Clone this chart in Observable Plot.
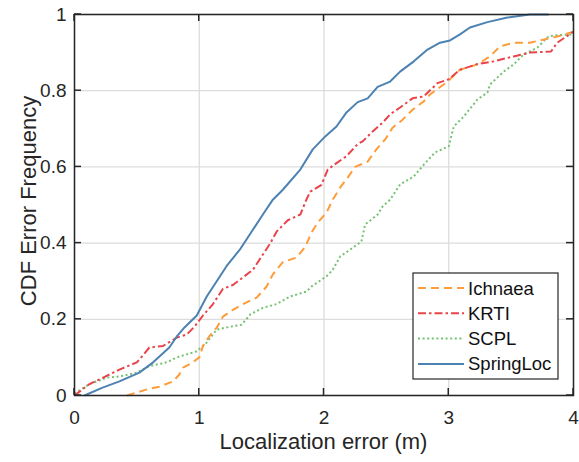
<!DOCTYPE html>
<html>
<head>
<meta charset="utf-8">
<script src="https://cdn.jsdelivr.net/npm/d3@7"></script>
<script src="https://cdn.jsdelivr.net/npm/@observablehq/plot@0.6"></script>
<style>
  html, body { margin: 0; padding: 0; background: #fff; }
  #chart { position: relative; width: 579px; height: 462px; }
</style>
</head>
<body>
<div id="chart"></div>
<script>
// ---- Data ----
const seriesNames = ["Ichnaea", "KRTI", "SCPL", "SpringLoc"];

const ichnaeaX = [0.42, 0.58, 0.68, 0.79, 0.84, 0.87, 0.95, 1.0, 1.03, 1.08, 1.14, 1.19, 1.27, 1.35, 1.46, 1.54, 1.59, 1.67, 1.78, 1.85, 1.90, 1.95, 2.02, 2.07, 2.13, 2.19, 2.25, 2.35, 2.42, 2.49, 2.55, 2.63, 2.71, 2.80, 2.85, 2.99, 3.09, 3.23, 3.33, 3.41, 3.52, 3.65, 3.76, 3.87, 4.0];
const ichnaeaY = [0, 0.016, 0.023, 0.037, 0.055, 0.073, 0.087, 0.10, 0.13, 0.155, 0.178, 0.207, 0.225, 0.24, 0.257, 0.286, 0.318, 0.35, 0.362, 0.39, 0.428, 0.454, 0.48, 0.514, 0.546, 0.572, 0.60, 0.614, 0.646, 0.672, 0.703, 0.724, 0.75, 0.772, 0.79, 0.824, 0.855, 0.869, 0.89, 0.916, 0.926, 0.926, 0.934, 0.942, 0.955];

const krtiX = [0, 0.12, 0.23, 0.36, 0.5, 0.56, 0.6, 0.71, 0.82, 0.9, 0.96, 1.03, 1.11, 1.19, 1.27, 1.35, 1.43, 1.51, 1.57, 1.62, 1.71, 1.81, 1.86, 1.89, 1.98, 2.03, 2.1, 2.18, 2.27, 2.31, 2.39, 2.47, 2.53, 2.61, 2.71, 2.80, 2.91, 3.0, 3.09, 3.23, 3.36, 3.52, 3.65, 3.82, 3.87, 4.0];
const krtiY = [0, 0.03, 0.047, 0.068, 0.087, 0.11, 0.126, 0.13, 0.152, 0.16, 0.18, 0.21, 0.24, 0.28, 0.29, 0.31, 0.33, 0.37, 0.40, 0.43, 0.46, 0.475, 0.515, 0.535, 0.553, 0.593, 0.61, 0.628, 0.66, 0.667, 0.693, 0.716, 0.738, 0.756, 0.78, 0.785, 0.82, 0.83, 0.855, 0.87, 0.877, 0.89, 0.9, 0.903, 0.926, 0.955];

const scplX = [0, 0.12, 0.26, 0.36, 0.5, 0.6, 0.74, 0.82, 0.90, 0.98, 1.06, 1.14, 1.24, 1.34, 1.41, 1.51, 1.62, 1.73, 1.86, 1.90, 2.02, 2.07, 2.13, 2.21, 2.30, 2.33, 2.43, 2.47, 2.53, 2.61, 2.72, 2.80, 2.89, 3.0, 3.04, 3.12, 3.23, 3.31, 3.33, 3.44, 3.52, 3.6, 3.71, 3.79, 3.84, 4.0];
const scplY = [0.005, 0.03, 0.047, 0.05, 0.06, 0.077, 0.087, 0.1, 0.108, 0.116, 0.139, 0.173, 0.18, 0.186, 0.213, 0.23, 0.24, 0.26, 0.273, 0.286, 0.313, 0.33, 0.365, 0.383, 0.404, 0.449, 0.475, 0.496, 0.514, 0.554, 0.575, 0.606, 0.638, 0.654, 0.706, 0.732, 0.777, 0.795, 0.816, 0.85, 0.869, 0.895, 0.913, 0.94, 0.945, 0.948];

const springX = [0.08, 0.22, 0.36, 0.52, 0.63, 0.76, 0.82, 0.88, 0.98, 1.06, 1.14, 1.22, 1.33, 1.43, 1.51, 1.59, 1.67, 1.81, 1.91, 2.01, 2.10, 2.18, 2.27, 2.35, 2.43, 2.53, 2.61, 2.72, 2.83, 2.93, 3.01, 3.09, 3.17, 3.31, 3.47, 3.65, 3.80];
const springY = [0, 0.02, 0.037, 0.06, 0.087, 0.126, 0.155, 0.178, 0.21, 0.26, 0.30, 0.34, 0.385, 0.435, 0.475, 0.514, 0.54, 0.593, 0.646, 0.68, 0.706, 0.743, 0.77, 0.78, 0.81, 0.824, 0.85, 0.877, 0.908, 0.926, 0.932, 0.948, 0.966, 0.98, 0.992, 1.0, 1.0];

const xTicks = [0, 1, 2, 3, 4];
const xTickLabels = ["0", "1", "2", "3", "4"];
const yTicks = [0, 0.2, 0.4, 0.6, 0.8, 1];
const yTickLabels = ["0", "0.2", "0.4", "0.6", "0.8", "1"];

// ---- Styles ----
const colors = {Ichnaea: "#FF9C3A", KRTI: "#E8444A", SCPL: "#74C271", SpringLoc: "#4C82B2"};
const dashes = {Ichnaea: "8,5", KRTI: "8,3,2.5,3", SCPL: "2,2.6", SpringLoc: null};

const toRows = (name, xs, ys) => xs.map((x, i) => ({name, x, y: ys[i]}));
const series = [
  toRows("SCPL", scplX, scplY),
  toRows("Ichnaea", ichnaeaX, ichnaeaY),
  toRows("KRTI", krtiX, krtiY),
  toRows("SpringLoc", springX, springY)
];

const font = "'Liberation Sans', Arial, Helvetica, sans-serif";
const axisColor = "#262626";

const lineMarks = series.map(rows => Plot.line(rows, {
  x: "x", y: "y",
  stroke: colors[rows[0].name],
  strokeWidth: 2,
  strokeDasharray: dashes[rows[0].name],
  strokeLinecap: "butt",
  strokeLinejoin: "round"
}));

const chart = Plot.plot({
  width: 579,
  height: 462,
  marginLeft: 74,
  marginRight: 6,
  marginTop: 14,
  marginBottom: 67,
  style: {fontFamily: font, background: "#fff", overflow: "visible"},
  x: {domain: [0, 4], label: null},
  y: {domain: [0, 1], label: null},
  marks: [
    Plot.gridX(xTicks, {stroke: "#dcdcdc", strokeOpacity: 1, strokeWidth: 1.3}),
    Plot.gridY(yTicks, {stroke: "#dcdcdc", strokeOpacity: 1, strokeWidth: 1.3}),
    ...lineMarks,
    Plot.axisX(xTicks, {anchor: "bottom", tickSize: 0, tickPadding: 15, fontSize: 19, fill: axisColor, tickFormat: d => xTickLabels[xTicks.indexOf(d)], label: null}),
    Plot.axisY(yTicks, {anchor: "left", tickSize: 0, tickPadding: 8, fontSize: 19, fill: axisColor, tickFormat: d => yTickLabels[yTicks.indexOf(d)], label: null}),
    Plot.frame({stroke: axisColor, strokeWidth: 1.5})
  ]
});

document.getElementById("chart").appendChild(chart);

const svg = d3.select(chart);
const sx = chart.scale("x"), sy = chart.scale("y");
const [X0, X1] = sx.range, [Y0, Y1] = sy.range; // Y0 bottom, Y1 top

// inward ticks on all four sides, placed through Plot's scales
const tk = svg.append("g").attr("stroke", axisColor).attr("stroke-width", 1.5);
xTicks.forEach(v => {
  const px = sx.apply(v);
  tk.append("line").attr("x1", px).attr("x2", px).attr("y1", Y0).attr("y2", Y0 - 7);
  tk.append("line").attr("x1", px).attr("x2", px).attr("y1", Y1).attr("y2", Y1 + 7);
});
yTicks.forEach(v => {
  const py = sy.apply(v);
  tk.append("line").attr("y1", py).attr("y2", py).attr("x1", X0).attr("x2", X0 + 7);
  tk.append("line").attr("y1", py).attr("y2", py).attr("x1", X1).attr("x2", X1 - 7);
});

// ---- Axis titles ----
svg.append("text")
  .attr("x", (X0 + X1) / 2).attr("y", 449)
  .attr("text-anchor", "middle")
  .attr("font-family", font).attr("font-size", 22).attr("fill", axisColor)
  .text("Localization error (m)");
svg.append("text")
  .attr("transform", `translate(36,201) rotate(-90)`)
  .attr("text-anchor", "middle")
  .attr("font-family", font).attr("font-size", 22).attr("fill", axisColor)
  .text("CDF Error Frequency");

// ---- Legend ----
const lg = svg.append("g").attr("font-family", font).attr("font-size", 18.5);
lg.append("rect")
  .attr("x", 413).attr("y", 273).attr("width", 145).attr("height", 106)
  .attr("fill", "#fff").attr("stroke", axisColor).attr("stroke-width", 1.2);
seriesNames.forEach((name, i) => {
  const yy = 288 + i * 25.3;
  lg.append("line")
    .attr("x1", 418).attr("x2", 464).attr("y1", yy).attr("y2", yy)
    .attr("stroke", colors[name]).attr("stroke-width", 2)
    .attr("stroke-dasharray", dashes[name]);
  lg.append("text")
    .attr("x", 468).attr("y", yy + 6.5)
    .attr("text-anchor", "start")
    .attr("fill", "#111")
    .text(name);
});
</script>
</body>
</html>
